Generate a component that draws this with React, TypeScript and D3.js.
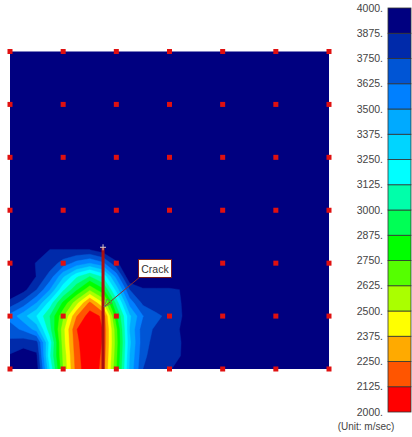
import React, { useMemo } from 'react';
import * as d3 from 'd3';

// Velocity field (m/sec), columns every 1/4 grid unit from the left edge (u = 0 .. 3.5),
// rows every 1/4 grid unit from the bottom edge upwards (v = 0 .. 2.5). Beyond: uniform 4000.
const row0 = [4000, 4000, 3950, 3250, 2625, 2200, 2000, 2180, 2750, 3400, 3750, 3830, 3860, 3950, 4000];
const row1 = [3890, 3950, 3900, 3150, 2600, 2180, 2000, 2160, 2720, 3380, 3720, 3820, 3850, 3880, 4000];
const row2 = [3780, 3820, 3800, 3200, 2560, 2160, 2000, 2140, 2700, 3350, 3700, 3800, 3840, 3880, 4000];
const row3 = [3680, 3600, 3450, 3050, 2550, 2130, 2020, 2130, 2720, 3380, 3700, 3770, 3830, 3890, 4000];
const row4 = [3580, 3420, 3250, 3000, 2650, 2260, 2060, 2150, 2850, 3350, 3620, 3720, 3790, 3880, 4000];
const row5 = [3830, 3700, 3500, 3200, 2850, 2550, 2220, 2500, 3050, 3550, 3780, 3830, 3840, 3880, 4000];
const row6 = [4000, 3920, 3750, 3500, 3150, 2900, 2650, 2850, 3300, 3750, 3860, 3860, 3860, 3880, 4000];
const row7 = [4000, 4000, 3870, 3700, 3400, 3150, 3000, 3150, 3550, 4000, 4000, 4000, 4000, 4000, 4000];
const row8 = [4000, 4000, 3860, 3820, 3700, 3580, 3500, 3600, 3850, 4000, 4000, 4000, 4000, 4000, 4000];
const row9 = [4000, 4000, 4000, 3870, 3870, 3870, 3870, 3950, 4000, 4000, 4000, 4000, 4000, 4000, 4000];
const row10 = [4000, 4000, 4000, 4000, 4000, 4000, 4000, 4000, 4000, 4000, 4000, 4000, 4000, 4000, 4000];
const fieldRows = [row0, row1, row2, row3, row4, row5, row6, row7, row8, row9, row10];

// Measurement points (grid units)
const sensorX = [0, 1, 2, 3, 4, 5, 6];
const sensorY = [0, 1, 2, 3, 4, 5, 6];

// Colour scale bands, from low (2000) to high (4000)
const levels = [2000, 2125, 2250, 2375, 2500, 2625, 2750, 2875, 3000, 3125, 3250, 3375, 3500, 3625, 3750, 3875, 4000];
const bandColors = [
  '#ff0000', '#ff5500', '#ffaa00', '#ffff00', '#aaff00', '#55ff00', '#00ff00', '#00ff55',
  '#00ffaa', '#00ffff', '#00d5ff', '#00aaff', '#0080ff', '#0055d5', '#002aaa', '#000080',
];
const levelLabels = ['4000.', '3875.', '3750.', '3625.', '3500.', '3375.', '3250.', '3125.', '3000.', '2875.', '2750.', '2625.', '2500.', '2375.', '2250.', '2125.', '2000.'];

// Crack position (grid units)
const crackX = 1.75;
const crackTop = 2.3;
const crackLabel = 'Crack';
const unitLabel = '(Unit: m/sec)';

const W = 412;
const H = 437;
const P = { x0: 10, x1: 329, y0: 51.5, y1: 369 };

export default function App() {
  const xs = d3.scaleLinear().domain([0, 6]).range([P.x0, P.x1]);
  const ys = d3.scaleLinear().domain([0, 6]).range([P.y1, P.y0]);
  const step = 1 / 4;

  const nx = fieldRows[0].length;
  const ny = fieldRows.length;

  const paths = useMemo(() => {
    const values: number[] = [];
    fieldRows.forEach((r) => r.forEach((v) => values.push(-v)));
    const thresholds = levels.slice(1, -1).reverse(); // 3875 .. 2125
    const gen = d3.contours().size([nx, ny]).thresholds(thresholds.map((t) => -t));
    const polys = gen(values);
    const proj = d3.geoTransform({
      point(x: number, y: number) {
        (this as any).stream.point(xs((x - 0.5) * step), ys((y - 0.5) * step));
      },
    });
    const path = d3.geoPath(proj);
    return polys.map((p, i) => {
      const t = thresholds[i];
      const bi = levels.indexOf(t) - 1;
      return { d: path(p as any) || '', color: bandColors[bi] };
    });
  }, []);

  // colour bar
  const cbX = 388;
  const cbW = 23;
  const cbTop = 8;
  const cbBottom = 412;
  const cb = d3.scaleLinear().domain([4000, 2000]).range([cbTop, cbBottom]);

  const cx = xs(crackX);
  const cyTop = ys(crackTop);
  const labelBox = { x: 138.5, y: 259.5, w: 33, h: 18 };

  return (
    <svg width={W} height={H} style={{ position: 'absolute', left: 0, top: 0, background: '#fff' }}
      fontFamily="'Liberation Sans', Arial, sans-serif">
      <defs>
        <clipPath id="plotclip">
          <rect x={P.x0} y={P.y0} width={P.x1 - P.x0} height={P.y1 - P.y0} />
        </clipPath>
      </defs>
      <rect x={P.x0} y={P.y0} width={P.x1 - P.x0} height={P.y1 - P.y0} fill={bandColors[15]} />
      <g clipPath="url(#plotclip)">
        {paths.map((p, i) => (
          <path key={i} d={p.d} fill={p.color} stroke={p.color} strokeWidth={0.4} />
        ))}
      </g>

      {/* crack */}
      <line x1={cx} x2={cx} y1={cyTop} y2={ys(0)} stroke="#a81010" strokeWidth={3} />
      <line x1={cx - 3} x2={cx + 3} y1={cyTop} y2={cyTop} stroke="#d8c8c8" strokeWidth={1} />
      <line x1={cx} x2={cx} y1={cyTop - 3} y2={cyTop + 3} stroke="#d8c8c8" strokeWidth={1} />

      {/* leader */}
      <line x1={labelBox.x + 2} y1={labelBox.y + labelBox.h - 1} x2={cx + 2} y2={306} stroke="#8a3030" strokeWidth={1} />
      <polygon points={`${cx + 1},${307} ${cx + 4},${299} ${cx + 9},${303}`} fill="none" stroke="#6a8a50" strokeWidth={1} />

      {/* sensors */}
      {sensorY.map((gy) =>
        sensorX.map((gx) => (
          <rect key={`${gx}-${gy}`} x={xs(gx) - 2.5} y={ys(gy) - 2.5} width={5} height={5} fill="#e01010" />
        ))
      )}

      {/* crack label */}
      <rect x={labelBox.x} y={labelBox.y} width={labelBox.w} height={labelBox.h} fill="#fff" stroke="#7a1a1a" strokeWidth={1} />
      <text x={labelBox.x + labelBox.w / 2} y={labelBox.y + 13} textAnchor="middle" fontSize={10.5} fill="#333">
        {crackLabel}
      </text>

      {/* colour bar */}
      {bandColors.map((c, i) => (
        <rect key={i} x={cbX} y={cb(levels[i + 1])} width={cbW} height={cb(levels[i]) - cb(levels[i + 1])}
          fill={c} stroke="#333" strokeWidth={0.8} />
      ))}
      {levelLabels.map((l, i) => (
        <text key={l} x={383} y={cb(4000 - i * 125)} dy="0.35em" textAnchor="end" fontSize={10.5} fill="#444">
          {l}
        </text>
      ))}
      <text x={366} y={430} textAnchor="middle" fontSize={10} fill="#444">{unitLabel}</text>
    </svg>
  );
}
